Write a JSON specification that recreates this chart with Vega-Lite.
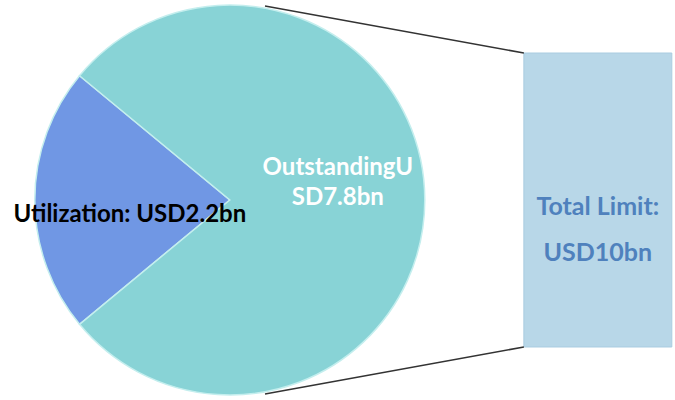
{
  "$schema": "https://vega.github.io/schema/vega-lite/v6.json",
  "width": 675,
  "height": 400,
  "padding": 0,
  "autosize": {"type": "fit", "contains": "padding"},
  "background": "white",
  "config": {"view": {"stroke": null}, "font": "Lato"},
  "datasets": {
    "split": [
      {"segment": "Utilization", "amount": 2.2, "label": "Utilization: USD2.2bn", "panel": "Breakdown"},
      {"segment": "Outstanding", "amount": 7.8, "label": "OutstandingU\nSD7.8bn", "panel": "Breakdown"}
    ],
    "total": [
      {"panel": "Total", "source": "Breakdown", "amount": 10, "base": 0, "label": "Total Limit:\nUSD10bn"}
    ]
  },
  "layer": [
    {
      "data": {"name": "split"},
      "mark": {"type": "arc", "radius": 195, "stroke": "#c4eeee", "strokeWidth": 1.5},
      "encoding": {
        "x": {"field": "panel", "type": "nominal",
              "scale": {"domain": ["Breakdown", "Total"], "paddingInner": 0.598, "paddingOuter": 0.216, "align": 0.98},
              "axis": null},
        "theta": {"field": "amount", "type": "quantitative", "stack": true,
                  "scale": {"range": [4.0212, 10.3044]}},
        "order": {"field": "amount", "type": "quantitative"},
        "color": {"field": "segment", "type": "nominal",
                  "scale": {"domain": ["Utilization", "Outstanding"], "range": ["#7097E4", "#88D3D6"]},
                  "legend": null}
      }
    },
    {
      "data": {"name": "split"},
      "mark": {"type": "text", "radius": 100, "dy": 15, "fontSize": 24, "fontWeight": "bold", "color": "black", "align": "center", "baseline": "middle"},
      "encoding": {
        "x": {"field": "panel", "type": "nominal"},
        "theta": {"field": "amount", "type": "quantitative", "stack": true},
        "order": {"field": "amount", "type": "quantitative"},
        "text": {"field": "label", "type": "nominal"},
        "opacity": {"condition": {"test": "datum.segment === 'Utilization'", "value": 1}, "value": 0}
      }
    },
    {
      "data": {"name": "split"},
      "mark": {"type": "text", "radius": 108, "dy": -32, "fontSize": 24, "fontWeight": "bold", "color": "white", "align": "center", "baseline": "middle", "lineBreak": "\n", "lineHeight": 30},
      "encoding": {
        "x": {"field": "panel", "type": "nominal"},
        "theta": {"field": "amount", "type": "quantitative", "stack": true},
        "order": {"field": "amount", "type": "quantitative"},
        "text": {"field": "label", "type": "nominal"},
        "opacity": {"condition": {"test": "datum.segment === 'Outstanding'", "value": 1}, "value": 0}
      }
    },
    {
      "data": {"name": "total"},
      "mark": {"type": "bar", "color": "#B8D7E8", "stroke": "#A9CCE0", "strokeWidth": 1},
      "encoding": {
        "x": {"field": "panel", "type": "nominal"},
        "y": {"field": "amount", "type": "quantitative",
              "scale": {"domain": [-1.803, 11.803], "nice": false, "zero": false},
              "axis": null}
      }
    },
    {
      "data": {"name": "total"},
      "mark": {"type": "text", "dy": 7, "fontSize": 25, "fontWeight": "bold", "color": "#4F81BD", "align": "center", "baseline": "middle", "lineBreak": "\n", "lineHeight": 46},
      "encoding": {
        "x": {"field": "panel", "type": "nominal"},
        "text": {"field": "label", "type": "nominal"}
      }
    },
    {
      "data": {"name": "total"},
      "mark": {"type": "rule", "color": "#333333", "strokeWidth": 1.5},
      "encoding": {
        "x": {"field": "panel", "type": "nominal", "bandPosition": 0},
        "x2": {"field": "source", "bandPosition": 0.738},
        "y": {"field": "amount", "type": "quantitative"},
        "y2": {"datum": 11.6}
      }
    },
    {
      "data": {"name": "total"},
      "mark": {"type": "rule", "color": "#333333", "strokeWidth": 1.5},
      "encoding": {
        "x": {"field": "panel", "type": "nominal", "bandPosition": 0},
        "x2": {"field": "source", "bandPosition": 0.738},
        "y": {"field": "base", "type": "quantitative"},
        "y2": {"datum": -1.6}
      }
    }
  ]
}
